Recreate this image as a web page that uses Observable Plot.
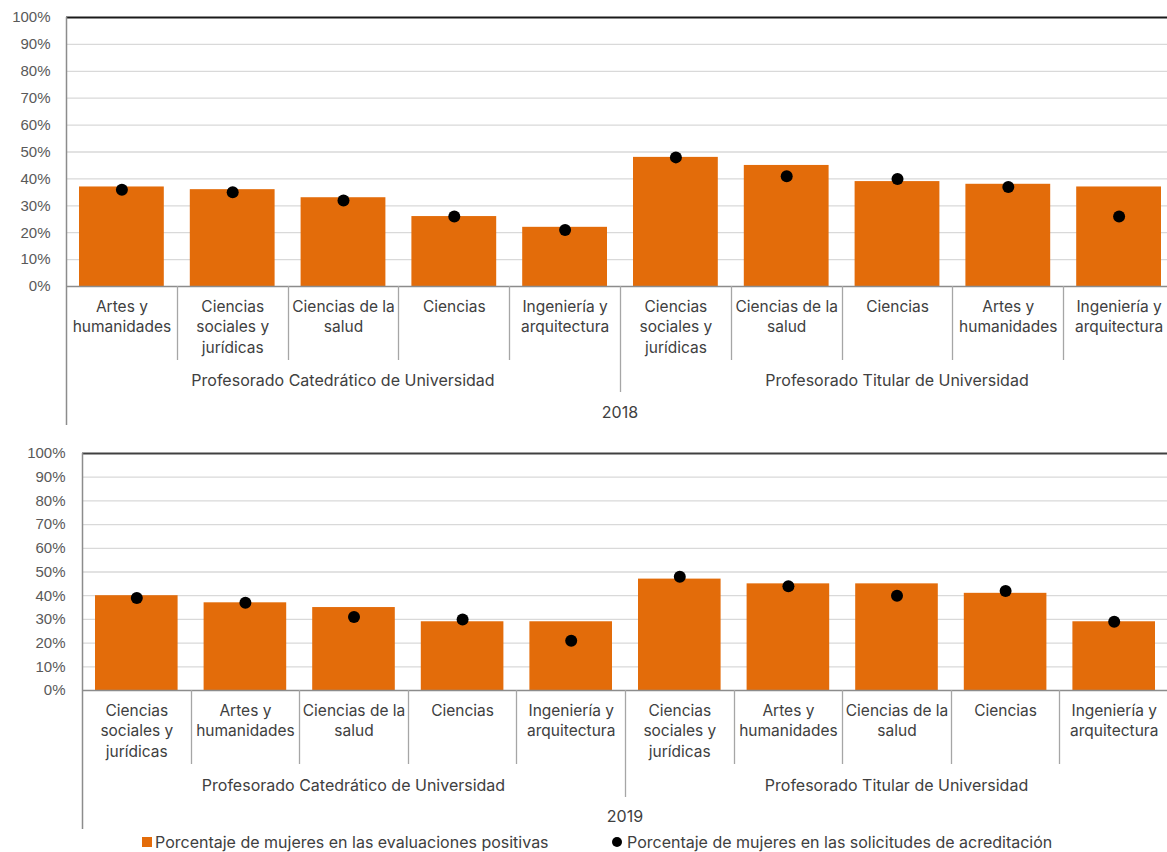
<!DOCTYPE html>
<html><head><meta charset="utf-8">
<script src="https://cdn.jsdelivr.net/npm/d3@7"></script>
<script src="https://cdn.jsdelivr.net/npm/@observablehq/plot@0.6"></script>
<style>
html,body{margin:0;padding:0;background:#fff;overflow:hidden;width:1167px;height:852px}
#c1{position:absolute;left:0;top:0}
#c2{position:absolute;left:0;top:436px}
#c1 svg,#c2 svg{max-width:none !important}
#legend{position:absolute;top:832px;left:0;width:1167px;height:20px;font-family:Inter;font-size:16px;color:#404040}
#legend .sw{position:absolute;top:5px;width:10px;height:10px;background:#e36c0a}
#legend .dt{position:absolute;top:5px;width:10px;height:10px;border-radius:50%;background:#000}
#legend .lb{position:absolute;top:0;line-height:20px;white-space:nowrap}
</style></head>
<body>
<div id="c1"></div><div id="c2"></div><div id="legend"></div>
<script>
const groupLabels = ["Profesorado Catedrático de Universidad", "Profesorado Titular de Universidad"];
const yearLabels = ["2018", "2019"];
const seriesNames = ["Porcentaje de mujeres en las evaluaciones positivas", "Porcentaje de mujeres en las solicitudes de acreditación"];
const yTicks = [0, 10, 20, 30, 40, 50, 60, 70, 80, 90, 100];

const categories2018 = ["Artes y humanidades", "Ciencias sociales y jurídicas", "Ciencias de la salud", "Ciencias", "Ingeniería y arquitectura",
  "Ciencias sociales y jurídicas", "Ciencias de la salud", "Ciencias", "Artes y humanidades", "Ingeniería y arquitectura"];
const groups2018 = [0, 0, 0, 0, 0, 1, 1, 1, 1, 1];
const evaluaciones2018 = [37, 36, 33, 26, 22, 48, 45, 39, 38, 37];
const solicitudes2018 = [36, 35, 32, 26, 21, 48, 41, 40, 37, 26];

const categories2019 = ["Ciencias sociales y jurídicas", "Artes y humanidades", "Ciencias de la salud", "Ciencias", "Ingeniería y arquitectura",
  "Ciencias sociales y jurídicas", "Artes y humanidades", "Ciencias de la salud", "Ciencias", "Ingeniería y arquitectura"];
const groups2019 = [0, 0, 0, 0, 0, 1, 1, 1, 1, 1];
const evaluaciones2019 = [40, 37, 35, 29, 29, 47, 45, 45, 41, 29];
const solicitudes2019 = [39, 37, 31, 30, 21, 48, 44, 40, 42, 29];

const wrappedLabels = {
  "Artes y humanidades": "Artes y\nhumanidades",
  "Ciencias sociales y jurídicas": "Ciencias\nsociales y\njurídicas",
  "Ciencias de la salud": "Ciencias de la\nsalud",
  "Ciencias": "Ciencias",
  "Ingeniería y arquitectura": "Ingeniería y\narquitectura"
};

const ORANGE = "#e36c0a";
const TEXT = "#404040";
const FONT = "Inter";

function chart(o) {
  const data = o.cats.map((c, i) => ({k: i, cat: c, g: o.groups[i], e: o.evals[i], s: o.sols[i]}));
  const plot = Plot.plot({
    width: o.width, height: o.height,
    marginTop: o.mt, marginBottom: o.mb, marginLeft: o.ml, marginRight: 0,
    style: {fontFamily: FONT, fontSize: "16px", color: TEXT, background: "white", overflow: "visible", maxWidth: "none"},
    x: {type: "band", domain: data.map(d => d.k), padding: 0, round: false, axis: null},
    y: {domain: [0, 100], axis: null},
    marks: [
      Plot.gridY(yTicks.filter(t => t > 0 && t < 100), {stroke: "#d9d9d9", strokeOpacity: 1, strokeWidth: 1.3}),
      Plot.axisY(yTicks, {tickSize: 0, tickPadding: o.tickPad, tickFormat: d => d + "%", fontFamily: "Liberation Sans", fontSize: 15, fill: "#595959"}),
      Plot.barY(data, {x: "k", y: "e", fill: ORANGE, insetLeft: 13, insetRight: 13}),
      Plot.dot(data, {x: "k", y: "s", r: 6, fill: "#000", stroke: null}),
      Plot.ruleY([0], {stroke: "#8c8c8c", strokeWidth: 1.5}),
      Plot.ruleY([100], {stroke: o.topStroke, strokeWidth: 1.8}),
      Plot.text(data, {x: "k", text: d => wrappedLabels[d.cat], frameAnchor: "bottom", lineAnchor: "top", dy: o.catDy, lineHeight: 1.3125, fontSize: 15.5, fontFamily: FONT, fill: TEXT})
    ]
  });
  const sx = plot.scale("x"), sy = plot.scale("y");
  const bw = sx.bandwidth;
  const y0 = sy.apply(0), y100 = sy.apply(100);
  const svg = d3.select(plot);
  const g = svg.append("g").attr("stroke", "#a6a6a6").attr("stroke-width", 1.3);
  data.forEach((d, i) => {
    if (i === 0) return;
    const x = Math.round(sx.apply(d.k)) + 0.5;
    const len = d.g !== data[i - 1].g ? o.groupSep : o.catSep;
    g.append("line").attr("x1", x).attr("x2", x).attr("y1", y0).attr("y2", y0 + len);
  });
  const xr = Math.round(sx.apply(data[data.length - 1].k) + bw) + 0.5;
  g.append("line").attr("x1", xr).attr("x2", xr).attr("y1", y0).attr("y2", y0 + o.groupSep);
  const xl = Math.round(sx.apply(data[0].k)) + 0.5;
  svg.append("line").attr("x1", xl).attr("x2", xl).attr("y1", y100).attr("y2", y0 + o.axisLen)
    .attr("stroke", "#8c8c8c").attr("stroke-width", 1.5);
  const gt = svg.append("g").attr("fill", TEXT).attr("font-family", FONT).attr("font-size", 16).attr("text-anchor", "middle");
  groupLabels.forEach((lab, gi) => {
    const ks = data.filter(d => d.g === gi);
    const cx = (sx.apply(ks[0].k) + sx.apply(ks[ks.length - 1].k) + bw) / 2;
    gt.append("text").attr("x", cx).attr("y", y0 + o.groupBase).text(lab);
  });
  const cxAll = (sx.apply(data[0].k) + sx.apply(data[data.length - 1].k) + bw) / 2;
  gt.append("text").attr("x", cxAll).attr("y", y0 + o.yearBase).text(o.year);
  return plot;
}

document.getElementById("c1").append(chart({
  cats: categories2018, groups: groups2018, evals: evaluaciones2018, sols: solicitudes2018, year: yearLabels[0],
  width: 1174, height: 432, mt: 17, mb: 146, ml: 66, tickPad: 16, topStroke: "#1a1a1a",
  catDy: 11, catSep: 74, groupSep: 106, axisLen: 139, groupBase: 99.5, yearBase: 131.5
}));
document.getElementById("c2").append(chart({
  cats: categories2019, groups: groups2019, evals: evaluaciones2019, sols: solicitudes2019, year: yearLabels[1],
  width: 1168, height: 396, mt: 17, mb: 142, ml: 82, tickPad: 17, topStroke: "#404040",
  catDy: 11, catSep: 74, groupSep: 107, axisLen: 139, groupBase: 101.4, yearBase: 132.4
}));

const legend = document.getElementById("legend");
legend.innerHTML =
  `<span class="sw" style="left:142px"></span><span class="lb" style="left:155px">${seriesNames[0]}</span>` +
  `<span class="dt" style="left:612px"></span><span class="lb" style="left:627px">${seriesNames[1]}</span>`;
</script>
</body></html>
